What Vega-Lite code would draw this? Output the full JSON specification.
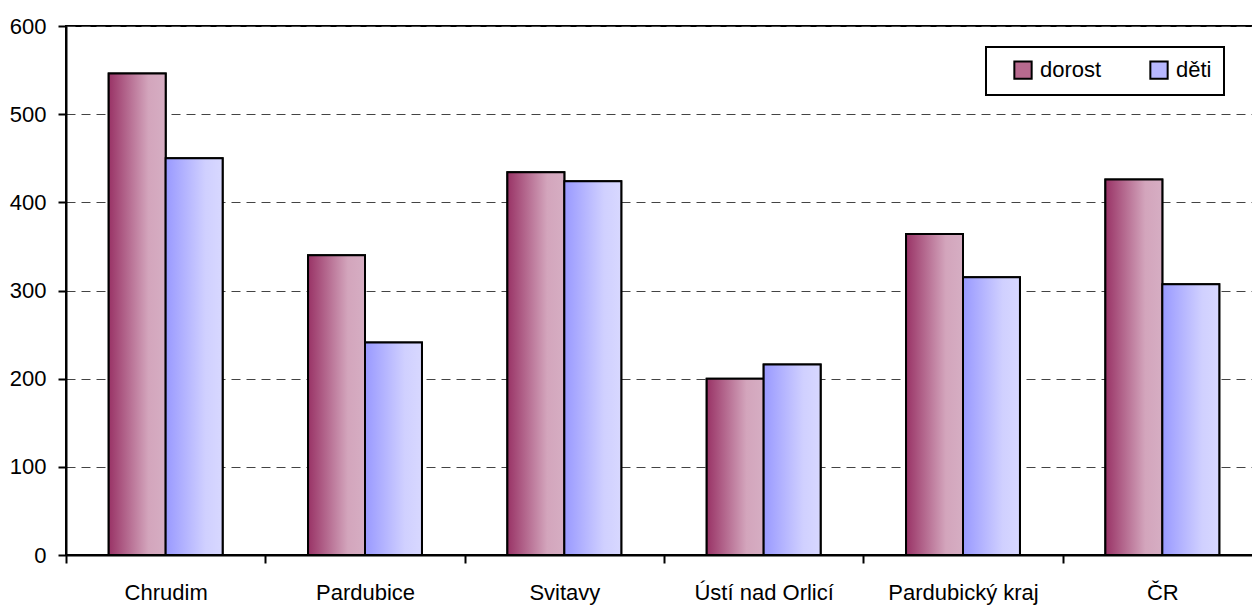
{
  "$schema": "https://vega.github.io/schema/vega-lite/v6.json",
  "autosize": {"type": "none"},
  "padding": {"left": 66, "top": 26, "right": 0, "bottom": 53},
  "width": 1196,
  "height": 529,
  "background": "white",
  "config": {
    "view": {"stroke": "black", "strokeWidth": 2},
    "font": "Liberation Sans",
    "legend": {"strokeWidth": 2}
  },
  "data": {
    "values": [
      {"okres": "Chrudim", "skupina": "dorost", "hodnota": 546},
      {"okres": "Chrudim", "skupina": "děti", "hodnota": 450},
      {"okres": "Pardubice", "skupina": "dorost", "hodnota": 340},
      {"okres": "Pardubice", "skupina": "děti", "hodnota": 241},
      {"okres": "Svitavy", "skupina": "dorost", "hodnota": 434},
      {"okres": "Svitavy", "skupina": "děti", "hodnota": 424},
      {"okres": "Ústí nad Orlicí", "skupina": "dorost", "hodnota": 200},
      {"okres": "Ústí nad Orlicí", "skupina": "děti", "hodnota": 216},
      {"okres": "Pardubický kraj", "skupina": "dorost", "hodnota": 364},
      {"okres": "Pardubický kraj", "skupina": "děti", "hodnota": 315},
      {"okres": "ČR", "skupina": "dorost", "hodnota": 426},
      {"okres": "ČR", "skupina": "děti", "hodnota": 307}
    ]
  },
  "encoding": {
    "x": {
      "field": "okres",
      "type": "nominal",
      "sort": null,
      "scale": {"paddingInner": 0, "paddingOuter": 0},
      "axis": {
        "title": null,
        "labelAngle": 0,
        "tickBand": "extent",
        "domainColor": "black",
        "domainWidth": 2,
        "tickColor": "black",
        "tickWidth": 2,
        "tickSize": 8,
        "labelFontSize": 22,
        "labelColor": "black",
        "labelPadding": 19,
        "labelFont": "Liberation Sans"
      }
    },
    "xOffset": {
      "field": "skupina",
      "type": "nominal",
      "scale": {"domain": ["dorost", "děti"], "paddingInner": 0, "paddingOuter": 0.75}
    },
    "y": {
      "field": "hodnota",
      "type": "quantitative",
      "scale": {"domain": [0, 600], "nice": false},
      "axis": {
        "title": null,
        "values": [0, 100, 200, 300, 400, 500, 600],
        "domainColor": "black",
        "domainWidth": 2,
        "tickColor": "black",
        "tickWidth": 2,
        "tickSize": 8,
        "labelFontSize": 22,
        "labelColor": "black",
        "labelPadding": 12,
        "labelFont": "Liberation Sans",
        "gridColor": "#444444",
        "gridDash": [9, 6],
        "gridWidth": 1
      }
    }
  },
  "layer": [
    {
      "mark": {"type": "bar", "stroke": "black", "strokeWidth": 2},
      "encoding": {
        "color": {
          "field": "skupina",
          "type": "nominal",
          "scale": {"domain": ["dorost", "děti"], "range": ["#b86a8f", "#b8b8ff"]},
          "legend": {
            "title": null,
            "orient": "none",
            "legendX": 920,
            "legendY": 21,
            "direction": "horizontal",
            "strokeColor": "black",
            "fillColor": "white",
            "padding": 12,
            "symbolType": "square",
            "symbolSize": 300,
            "symbolOffset": 14,
            "symbolStrokeColor": "black",
            "symbolStrokeWidth": 2,
            "symbolOpacity": 1,
            "labelFontSize": 22,
            "labelColor": "black",
            "labelFont": "Liberation Sans",
            "columnPadding": 32,
            "labelOffset": 6
          }
        }
      }
    },
    {
      "transform": [{"filter": "datum.skupina === 'dorost'"}],
      "mark": {
        "type": "bar", "stroke": "black", "strokeWidth": 2,
        "color": {"gradient": "linear", "x1": 0, "y1": 0, "x2": 1, "y2": 0,
          "stops": [{"offset": 0, "color": "#993366"}, {"offset": 0.7, "color": "#d3a5bc"}, {"offset": 1, "color": "#d6aec3"}]}
      }
    },
    {
      "transform": [{"filter": "datum.skupina === 'děti'"}],
      "mark": {
        "type": "bar", "stroke": "black", "strokeWidth": 2,
        "color": {"gradient": "linear", "x1": 0, "y1": 0, "x2": 1, "y2": 0,
          "stops": [{"offset": 0, "color": "#9999ff"}, {"offset": 0.7, "color": "#d0d0ff"}, {"offset": 1, "color": "#d8d8ff"}]}
      }
    }
  ]
}
